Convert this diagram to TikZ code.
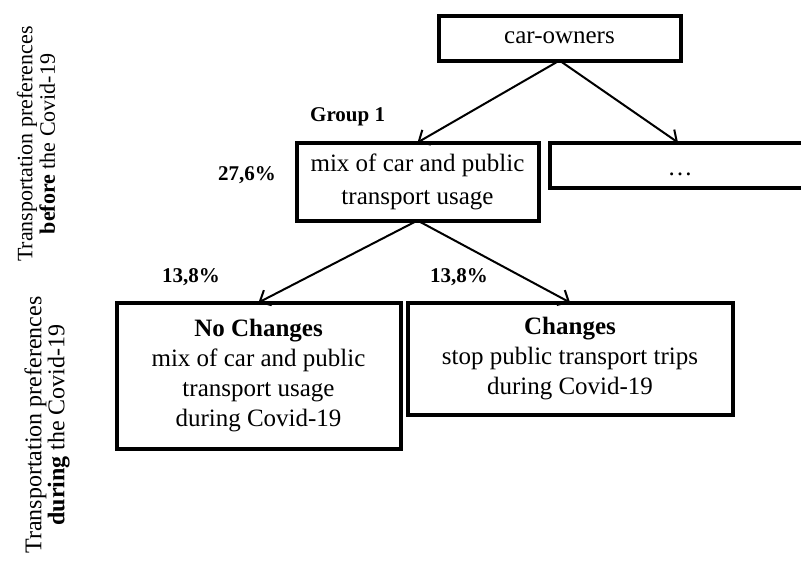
\documentclass[tikz,border=0pt]{standalone}
\usepackage{fontspec}
\setmainfont{Liberation Serif}
\usetikzlibrary{arrows.meta}
\begin{document}
\begin{tikzpicture}[x=1pt,y=-1pt,
  box/.style={draw=black, line width=4pt, inner sep=0pt, outer sep=0pt,
    align=center, font=\fontsize{25}{30}\selectfont},
  link/.style={line width=2pt, -{Straight Barb[length=9pt,width=17pt,line width=2pt]}},
  pct/.style={font=\bfseries\fontsize{21}{25}\selectfont, inner sep=0pt},
  side/.style={rotate=90, align=center, inner sep=0pt}
]
\clip (0,0) rectangle (801,563);
\fill[white] (0,0) rectangle (801,563);

% side captions
\node[side, font=\fontsize{22}{22.5}\selectfont] (before) at (36,144)
  {Transportation preferences\\\textbf{before} the Covid-19};
\node[side, font=\fontsize{24}{23}\selectfont] (during) at (47,425)
  {Transportation preferences\\\textbf{during} the Covid-19};

% tree boxes
\node[box, minimum width=242, minimum height=45] (car) at (559.5,38) {car-owners};
\node[box, minimum width=242, minimum height=78, font=\fontsize{25}{33}\selectfont] (grp) at (417.5,181.5)
  {mix of car and public\\transport usage};
\node[box, minimum width=300, minimum height=45, anchor=west] (more) at (550,165) {};
\node[font=\fontsize{25}{30}\selectfont, inner sep=0pt, anchor=base] (moretext) at (680,175) {\dots};
\node[box, minimum width=284, minimum height=146] (keep) at (258.5,375.5)
  {\textbf{No Changes}\\mix of car and public\\transport usage\\during Covid-19};
\node[box, minimum width=325, minimum height=112] (stop) at (570,358.5)
  {\textbf{Changes}\\stop public transport trips\\during Covid-19};

% labels
\node[pct, anchor=west] (g1) at (310,117) {Group 1};
\node[pct, anchor=west] (p1) at (218,175) {27,6\%};
\node[pct, anchor=west] (p2) at (162,277) {13,8\%};
\node[pct, anchor=west] (p3) at (430,277) {13,8\%};

% connectors
\coordinate (moretop) at (678,142.5);
\draw[link] (car.south) -- (grp.north);
\draw[link] (car.south) -- (moretop);
\draw[link] (grp.south) -- (keep.north);
\draw[link] (grp.south) -- (stop.north);
\end{tikzpicture}
\end{document}
